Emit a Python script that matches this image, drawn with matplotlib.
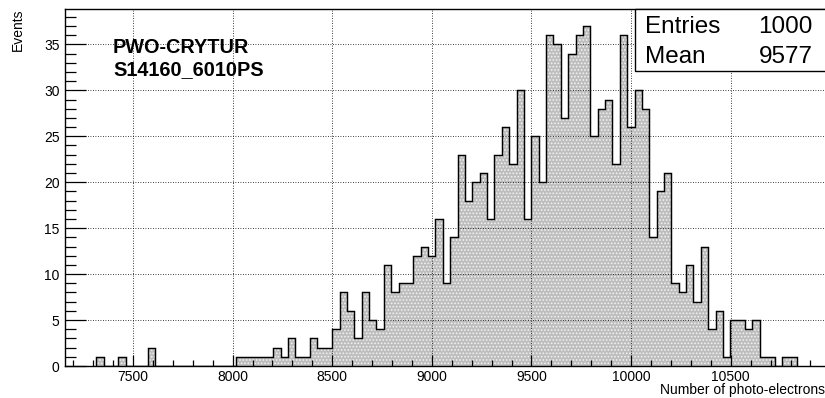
import numpy as np
import matplotlib
matplotlib.use('Agg')
import matplotlib.pyplot as plt
from matplotlib.patches import Rectangle
from matplotlib.ticker import MultipleLocator

plt.rcParams['font.family'] = ['Liberation Sans', 'DejaVu Sans']
plt.rcParams['hatch.linewidth'] = 0.8

# photo-electron spectrum: counts per bin, bins of 37 p.e. starting at 7316
bin_start = 7316
bin_width = 37
counts = [1, 0, 0, 1, 0, 0, 0, 2,
          0, 0, 0, 0, 0, 0, 0, 0, 0, 0, 0,
          1, 1, 1, 1, 1,
          2, 1, 3, 1, 1, 3, 2, 2, 4, 8, 6, 3, 8, 5, 4, 11, 8,
          9, 9, 12, 13, 12, 16, 9, 14, 23, 18, 20, 21, 16, 23, 26, 22, 30, 16,
          25, 20, 36, 35, 27, 34, 36, 37, 25, 28, 29, 22, 36, 26, 30, 28, 14, 19, 21,
          9, 8, 11, 7, 13, 4, 6, 1, 5, 5, 4, 5, 1, 1, 0, 1, 1]
mean_pe = 9577
labels = ["PWO-CRYTUR", "S14160_6010PS"]

counts = np.array(counts)
edges = bin_start + bin_width * np.arange(len(counts) + 1)

W, H = 825, 398
fig = plt.figure(figsize=(W / 100, H / 100), dpi=100)
ax = fig.add_axes([65 / W, 32 / H, 760 / W, 357 / H])

# dotted grey fill, then the black outline on top
ax.stairs(counts, edges, fill=True, facecolor='#bdbdbd', edgecolor='#f2f2f2',
          linewidth=0, hatch='.....', zorder=1)
ax.stairs(counts, edges, color='black', linewidth=1.05, zorder=3)

ax.set_xlim(7159, 10973)
ax.set_ylim(0, counts.max() * 1.05)

ax.xaxis.set_major_locator(MultipleLocator(500))
ax.xaxis.set_minor_locator(MultipleLocator(100))
ax.yaxis.set_major_locator(MultipleLocator(5))
ax.yaxis.set_minor_locator(MultipleLocator(1))
ax.tick_params(axis='x', which='major', direction='in', length=7.7, width=0.9,
               labelsize=10, pad=3)
ax.tick_params(axis='x', which='minor', direction='in', length=4, width=0.9)
ax.tick_params(axis='y', which='major', direction='in', length=15, width=0.9,
               labelsize=10, pad=4)
ax.tick_params(axis='y', which='minor', direction='in', length=8, width=0.9)

ax.set_axisbelow(False)
ax.grid(True, which='major', color='black', linestyle=(0, (1, 2)), linewidth=0.6)

for s in ['left', 'bottom', 'top']:
    ax.spines[s].set_linewidth(1.0)
ax.spines['right'].set_visible(False)

# statistics box in the upper right corner
box_x0 = (635 - 65) / 760
box_y0 = (366 - 70.7) / 357
ax.add_patch(Rectangle((box_x0, box_y0), 1 - box_x0 + 0.01, 1 - box_y0,
                       transform=ax.transAxes, facecolor='white',
                       edgecolor='black', linewidth=1.0, zorder=5, clip_on=False))
fig.text(645 / W, 1 - 33.3 / H, "Entries", fontsize=17.5, va='baseline', zorder=6)
fig.text(813 / W, 1 - 33.3 / H, f"{counts.sum()}", fontsize=17.5, ha='right',
         va='baseline', zorder=6)
fig.text(645 / W, 1 - 63.3 / H, "Mean", fontsize=17.5, va='baseline', zorder=6)
fig.text(813 / W, 1 - 63.3 / H, f"{mean_pe}", fontsize=17.5, ha='right',
         va='baseline', zorder=6)

fig.text(113 / W, 1 - 53 / H, labels[0], fontsize=14.3, fontweight='bold', va='baseline')
fig.text(113 / W, 1 - 75 / H, labels[1], fontsize=14.3, fontweight='bold', va='baseline')

fig.text(17.5 / W, 1 - 8.3 / H, "Events", fontsize=10, rotation=90,
         ha='center', va='top')
fig.text(1.0, 1 - 394 / H, "Number of photo-electrons", fontsize=10,
         ha='right', va='baseline')

fig.savefig('out.png', dpi=100)
